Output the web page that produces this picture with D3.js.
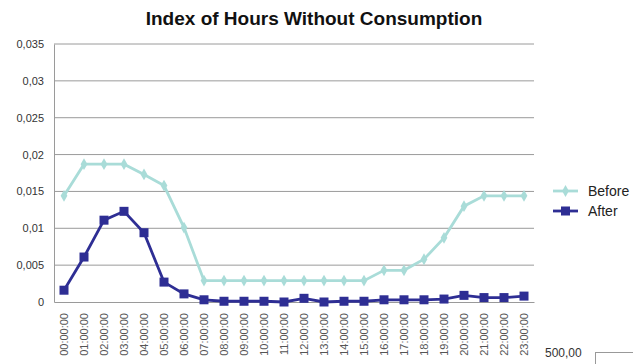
<!DOCTYPE html>
<html>
<head>
<meta charset="utf-8">
<script src="https://cdn.jsdelivr.net/npm/d3@7"></script>
<style>
  html, body { margin: 0; padding: 0; background: #fff; }
  svg { display: block; font-family: Arial, "Liberation Sans", sans-serif; }
</style>
</head>
<body>
<svg id="chart" width="633" height="364"></svg>
<script>
// Hourly categories
const hours = ["00:00:00","01:00:00","02:00:00","03:00:00","04:00:00","05:00:00",
  "06:00:00","07:00:00","08:00:00","09:00:00","10:00:00","11:00:00",
  "12:00:00","13:00:00","14:00:00","15:00:00","16:00:00","17:00:00",
  "18:00:00","19:00:00","20:00:00","21:00:00","22:00:00","23:00:00"];

// Index values per hour
const before = [0.0144, 0.0187, 0.0187, 0.0187, 0.0173, 0.0158, 0.0101, 0.0029,
  0.0029, 0.0029, 0.0029, 0.0029, 0.0029, 0.0029, 0.0029, 0.0029,
  0.0043, 0.0043, 0.0058, 0.0087, 0.0130, 0.0144, 0.0144, 0.0144];
const after = [0.0016, 0.0061, 0.0111, 0.0123, 0.0094, 0.0027, 0.0011, 0.0003,
  0.0001, 0.0001, 0.0001, 0.0000, 0.0005, 0.0000, 0.0001, 0.0001,
  0.0003, 0.0003, 0.0003, 0.0004, 0.0009, 0.0006, 0.0006, 0.0008];

const yTicks = [0, 0.005, 0.01, 0.015, 0.02, 0.025, 0.03, 0.035];
const seriesNames = ["Before", "After"];

const svg = d3.select("#chart");
const plotLeft = 54, plotRight = 534, plotTop = 44, plotBottom = 302;

const x = d3.scaleBand().domain(hours).range([plotLeft, plotRight]).padding(0);
const y = d3.scaleLinear().domain([0, 0.035]).range([plotBottom, plotTop]);
const cx = d => x(d) + x.bandwidth() / 2;

const fmt = v => v === 0 ? "0" : String(+v.toFixed(3)).replace(".", ",");

// Title
svg.append("text")
  .attr("x", 314).attr("y", 25)
  .attr("text-anchor", "middle")
  .attr("font-size", 19).attr("font-weight", "bold")
  .attr("fill", "#111")
  .text("Index of Hours Without Consumption");

// Horizontal gridlines
svg.append("g")
  .selectAll("line")
  .data(yTicks.filter(t => t > 0))
  .join("line")
  .attr("x1", plotLeft).attr("x2", plotRight)
  .attr("y1", d => y(d)).attr("y2", d => y(d))
  .attr("stroke", "#9a9a9a").attr("stroke-width", 1);

// Y axis
const yAxis = svg.append("g")
  .attr("transform", `translate(${plotLeft},0)`)
  .call(d3.axisLeft(y).tickValues(yTicks).tickFormat(fmt).tickSize(0).tickPadding(10));
yAxis.select(".domain").attr("stroke", "#9a9a9a");
yAxis.selectAll("text").attr("font-size", 11).attr("fill", "#333")
  .attr("font-family", "Arial, 'Liberation Sans', sans-serif");

// X axis
const xAxis = svg.append("g")
  .attr("transform", `translate(0,${plotBottom})`)
  .call(d3.axisBottom(x).tickSize(0).tickPadding(0));
xAxis.select(".domain").attr("stroke", "#9a9a9a");
xAxis.selectAll("text")
  .attr("font-size", 11).attr("fill", "#555")
  .attr("font-family", "Arial, 'Liberation Sans', sans-serif")
  .attr("text-anchor", "end")
  .attr("dy", null)
  .attr("transform", "translate(4,11) rotate(-90)");

// Lines
const line = d3.line().x((d, i) => cx(hours[i])).y(d => y(d));

const beforeColor = "#a9dcd8";
const afterColor = "#2e2e94";

svg.append("path").datum(before)
  .attr("d", line).attr("fill", "none")
  .attr("stroke", beforeColor).attr("stroke-width", 2.8);

svg.append("g").selectAll("path")
  .data(before)
  .join("path")
  .attr("d", d3.symbol(d3.symbolDiamond, 40))
  .attr("transform", (d, i) => `translate(${cx(hours[i])},${y(d)})`)
  .attr("fill", beforeColor);

svg.append("path").datum(after)
  .attr("d", line).attr("fill", "none")
  .attr("stroke", afterColor).attr("stroke-width", 2.8);

svg.append("g").selectAll("rect")
  .data(after)
  .join("rect")
  .attr("x", (d, i) => cx(hours[i]) - 4.5)
  .attr("y", d => y(d) - 4.5)
  .attr("width", 9).attr("height", 9)
  .attr("fill", afterColor);

// Legend
const legend = svg.append("g");
seriesNames.forEach((name, i) => {
  const ly = 191 + i * 20;
  const col = i === 0 ? beforeColor : afterColor;
  legend.append("line")
    .attr("x1", 553).attr("x2", 578).attr("y1", ly).attr("y2", ly)
    .attr("stroke", col).attr("stroke-width", 2.8);
  if (i === 0) {
    legend.append("path")
      .attr("d", d3.symbol(d3.symbolDiamond, 40))
      .attr("transform", `translate(565.5,${ly})`)
      .attr("fill", col);
  } else {
    legend.append("rect")
      .attr("x", 561).attr("y", ly - 4.5).attr("width", 9).attr("height", 9)
      .attr("fill", col);
  }
  legend.append("text")
    .attr("x", 588).attr("y", ly + 5)
    .attr("font-size", 14).attr("fill", "#222")
    .text(name);
});

// Neighbouring cell content at the lower right
svg.append("text")
  .attr("x", 545).attr("y", 357)
  .attr("font-size", 12).attr("fill", "#333")
  .text("500,00");
svg.append("rect")
  .attr("x", 595.5).attr("y", 352.5).attr("width", 50).attr("height", 30)
  .attr("fill", "#fff").attr("stroke", "#999");
</script>
</body>
</html>
